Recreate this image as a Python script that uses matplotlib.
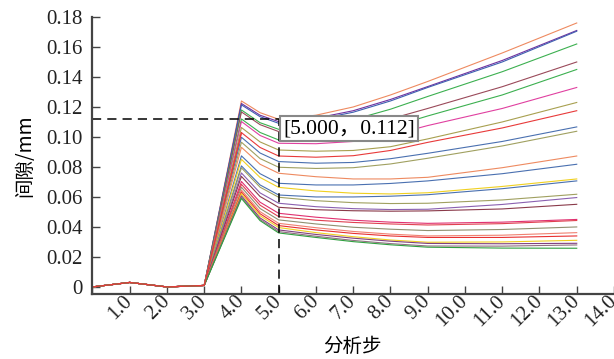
import matplotlib
matplotlib.use("Agg")
import matplotlib.pyplot as plt

# analysis steps (shared start, then the spread after step 4)
steps_early = [0, 1, 2, 3]
gap_early = [0.0, 0.003, 0.0, 0.001]
steps_late = [4, 4.5, 5, 6, 7, 8, 9, 11, 13]

# gap (mm) of each monitored point at steps_late
gap_lines = [
    [0.124, 0.1162, 0.1118, 0.1145, 0.120, 0.128, 0.137, 0.156, 0.176],
    [0.1223, 0.1145, 0.1102, 0.1125, 0.1175, 0.125, 0.1336, 0.151, 0.171],
    [0.1214, 0.1135, 0.1091, 0.1115, 0.1165, 0.124, 0.133, 0.150, 0.1705],
    [0.118, 0.1095, 0.1051, 0.107, 0.1115, 0.1185, 0.127, 0.1435, 0.162],
    [0.1167, 0.1082, 0.1036, 0.104, 0.1065, 0.112, 0.119, 0.1335, 0.150],
    [0.112, 0.103, 0.098, 0.098, 0.101, 0.1065, 0.114, 0.128, 0.145],
    [0.1103, 0.101, 0.0958, 0.0955, 0.097, 0.101, 0.1076, 0.119, 0.133],
    [0.1063, 0.0967, 0.0913, 0.0905, 0.091, 0.0935, 0.0987, 0.110, 0.123],
    [0.1029, 0.093, 0.0873, 0.0865, 0.0875, 0.091, 0.0964, 0.106, 0.1175],
    [0.0998, 0.0893, 0.0836, 0.0825, 0.083, 0.0855, 0.0891, 0.097, 0.1067],
    [0.0965, 0.0856, 0.0798, 0.079, 0.0795, 0.082, 0.0858, 0.094, 0.1038],
    [0.0931, 0.0818, 0.0758, 0.0735, 0.072, 0.072, 0.0731, 0.0795, 0.0873],
    [0.0874, 0.0755, 0.0691, 0.068, 0.068, 0.069, 0.0707, 0.0755, 0.0818],
    [0.0851, 0.073, 0.0664, 0.064, 0.0625, 0.062, 0.0628, 0.067, 0.072],
    [0.0807, 0.068, 0.0613, 0.060, 0.060, 0.0605, 0.0615, 0.0655, 0.0707],
    [0.0794, 0.0665, 0.0598, 0.0575, 0.0562, 0.0556, 0.0558, 0.058, 0.0618],
    [0.076, 0.0627, 0.0558, 0.0535, 0.0522, 0.0516, 0.0518, 0.055, 0.0596],
    [0.0737, 0.0603, 0.0531, 0.0515, 0.0508, 0.0505, 0.0507, 0.052, 0.0551],
    [0.0703, 0.0565, 0.0491, 0.0465, 0.0445, 0.0432, 0.0424, 0.0432, 0.045],
    [0.0684, 0.0545, 0.0469, 0.0445, 0.043, 0.042, 0.0413, 0.0422, 0.0443],
    [0.0665, 0.0523, 0.0447, 0.042, 0.0398, 0.0385, 0.0376, 0.0383, 0.040],
    [0.0646, 0.0502, 0.0424, 0.0395, 0.037, 0.0352, 0.034, 0.0345, 0.0362],
    [0.0633, 0.0488, 0.0409, 0.038, 0.0357, 0.034, 0.033, 0.033, 0.034],
    [0.0622, 0.0475, 0.0396, 0.0362, 0.0335, 0.0313, 0.0298, 0.030, 0.0311],
    [0.0608, 0.046, 0.038, 0.035, 0.0325, 0.0305, 0.029, 0.0288, 0.0291],
    [0.0599, 0.045, 0.0369, 0.0338, 0.031, 0.0289, 0.0273, 0.0272, 0.028],
    [0.059, 0.0442, 0.036, 0.033, 0.0302, 0.0281, 0.0265, 0.0259, 0.0258],
]
line_colors = [
    "#ee8a60", "#7030a0", "#3f60b0", "#3cb050", "#9a4a5a", "#3cb050",
    "#e040a0", "#a8a050", "#e83a3a", "#4a70b0", "#a0a060", "#ee8a60",
    "#4a70b0", "#f0d020", "#4a70b0", "#a0a060", "#8a60b0", "#8a3a4a",
    "#e03070", "#e04050", "#909070", "#f08070", "#e83030", "#f0d020",
    "#804080", "#907080", "#30a040",
]

mark_x, mark_y = 5.0, 0.112
xticks = list(range(0, 15))
xtick_labels = [""] + [f"{v:.1f}" for v in range(1, 15)]
yticks = [0, 0.02, 0.04, 0.06, 0.08, 0.10, 0.12, 0.14, 0.16, 0.18]
ytick_labels = ["0", "0.02", "0.04", "0.06", "0.08", "0.10", "0.12", "0.14", "0.16", "0.18"]

serif = ["Liberation Serif", "Noto Sans CJK SC"]
cjk = ["Noto Sans CJK SC", "DejaVu Sans"]

fig = plt.figure(figsize=(6.14, 3.59), dpi=100)
ax = fig.add_axes([0.1505, 0.1811, 0.8495, 0.7716])

for row, col in zip(gap_lines, line_colors):
    ax.plot(steps_early + steps_late, gap_early + row, color=col, lw=0.8)
# the red one sits on top in the flat start
ax.plot(steps_early + steps_late[:1], gap_early + gap_lines[8][:1], color="#e83a3a", lw=0.9)

ax.set_xlim(0, 14)
ax.set_ylim(-0.0047, 0.18)

dash = (0, (6, 4))
ax.plot([0, mark_x], [mark_y, mark_y], color="black", lw=1.1, linestyle=dash)
ax.plot([mark_x, mark_x], [-0.0047, mark_y], color="black", lw=1.1, linestyle=dash)
ax.text(mark_x + 0.12, mark_y - 0.0002, "[5.000，0.112]", family=serif, fontsize=15.5,
        ha="left", va="top",
        bbox=dict(facecolor="white", edgecolor="#888888", lw=1.5, boxstyle="square,pad=0.15"))

for s in ["top", "right"]:
    ax.spines[s].set_visible(False)
for s in ["left", "bottom"]:
    ax.spines[s].set_color("#444444")
    ax.spines[s].set_linewidth(1.6)

ax.set_yticks(yticks)
ax.set_yticklabels(ytick_labels, family=serif, fontsize=15, color="#222222")
ax.set_xticks(xticks)
ax.set_xticklabels(xtick_labels, family=serif, fontsize=15, color="#222222",
                   rotation=45, ha="right", va="center", rotation_mode="anchor")
ax.tick_params(axis="both", direction="in", length=6, width=1, color="#444444")
ax.tick_params(axis="x", pad=3)
ax.tick_params(axis="y", pad=7)

fig.text(352 / 614, 1 - 347 / 359, "分析步", family=cjk, fontsize=14, ha="center", va="center")
ax.set_ylabel("间隙/mm", family=cjk, fontsize=14, labelpad=8)

fig.savefig("out.png", dpi=100)
